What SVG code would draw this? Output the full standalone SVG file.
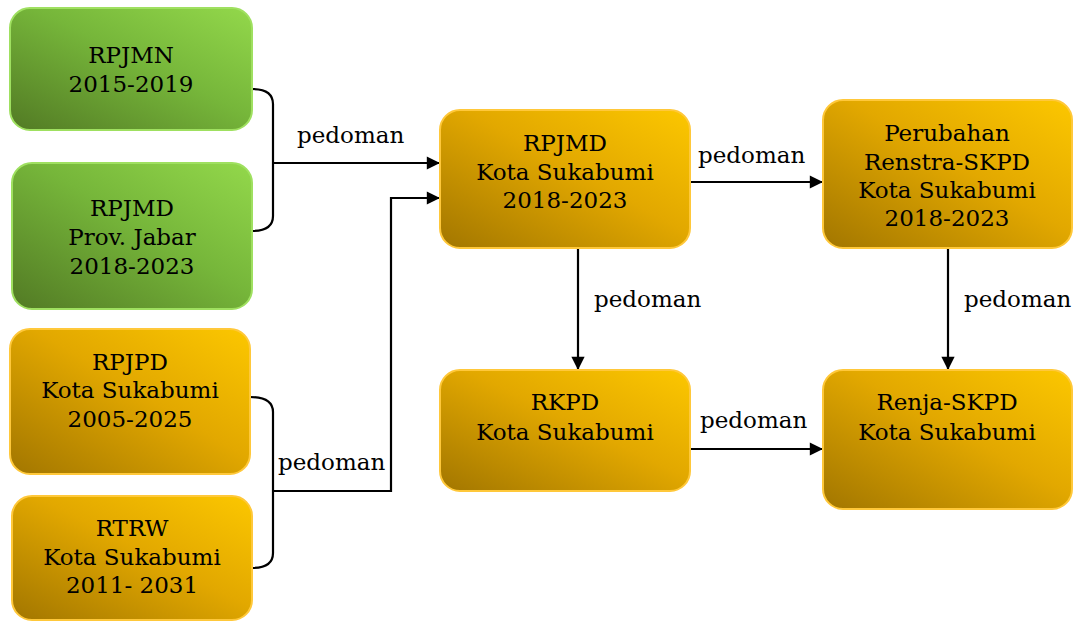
<svg xmlns="http://www.w3.org/2000/svg" width="1073" height="622" viewBox="0 0 1073 622">
<style>
.t{font-family:"DejaVu Serif","Liberation Serif",serif;font-size:23px;fill:#000;text-anchor:middle}
.l{font-family:"DejaVu Serif","Liberation Serif",serif;font-size:23px;fill:#000}
.g{fill:url(#gg);stroke:#9fe060;stroke-width:2}
.o{fill:url(#og);stroke:#ffc83a;stroke-width:2}
.c{fill:none;stroke:#000;stroke-width:2.2}
</style>
<defs>
<linearGradient id="gg" x1="0" y1="1" x2="1" y2="0">
<stop offset="0" stop-color="#527a24"/>
<stop offset="0.55" stop-color="#76b63a"/>
<stop offset="1" stop-color="#93d84b"/>
</linearGradient>
<linearGradient id="og" x1="0" y1="1" x2="1" y2="0">
<stop offset="0" stop-color="#a27600"/>
<stop offset="0.55" stop-color="#e2a800"/>
<stop offset="1" stop-color="#fcc700"/>
</linearGradient>
<marker id="ah" viewBox="0 0 10 10" refX="10" refY="5" markerWidth="7" markerHeight="6" markerUnits="strokeWidth" orient="auto">
<path d="M0,0 L10,5 L0,10 Z" fill="#000"/>
</marker>
</defs>
<g id="connectors">
<path class="c" d="M252,89 Q273,89 273,104 L273,216 Q273,231 252,231"/>
<path class="c" d="M273,163 L440,163" marker-end="url(#ah)"/>
<path class="c" d="M250,397 Q273,397 273,412 L273,553 Q273,568 252,568"/>
<path class="c" d="M273,491 L391,491 L391,198 L440,198" marker-end="url(#ah)"/>
<path class="c" d="M690,182 L823,182" marker-end="url(#ah)"/>
<path class="c" d="M578,248 L578,370" marker-end="url(#ah)"/>
<path class="c" d="M948,248 L948,370" marker-end="url(#ah)"/>
<path class="c" d="M690,449 L823,449" marker-end="url(#ah)"/>
<text class="l" x="297" y="143">pedoman</text>
<text class="l" x="278" y="470">pedoman</text>
<text class="l" x="698" y="163">pedoman</text>
<text class="l" x="594" y="307">pedoman</text>
<text class="l" x="964" y="307">pedoman</text>
<text class="l" x="700" y="428">pedoman</text>
</g>
<g id="rpjmn">
<rect class="g" x="10" y="8" width="242" height="122" rx="20"/>
<text class="t" x="131" y="63">RPJMN</text>
<text class="t" x="131" y="92">2015-2019</text>
</g>
<g id="rpjmd-prov">
<rect class="g" x="12" y="163" width="240" height="146" rx="20"/>
<text class="t" x="132" y="216">RPJMD</text>
<text class="t" x="132" y="245">Prov. Jabar</text>
<text class="t" x="132" y="274">2018-2023</text>
</g>
<g id="rpjpd">
<rect class="o" x="10" y="329" width="240" height="145" rx="20"/>
<text class="t" x="130" y="370">RPJPD</text>
<text class="t" x="130" y="398">Kota Sukabumi</text>
<text class="t" x="130" y="427">2005-2025</text>
</g>
<g id="rtrw">
<rect class="o" x="12" y="496" width="240" height="124" rx="20"/>
<text class="t" x="132" y="536">RTRW</text>
<text class="t" x="132" y="565">Kota Sukabumi</text>
<text class="t" x="132" y="593">2011- 2031</text>
</g>
<g id="rpjmd-kota">
<rect class="o" x="440" y="110" width="250" height="138" rx="20"/>
<text class="t" x="565" y="151">RPJMD</text>
<text class="t" x="565" y="180">Kota Sukabumi</text>
<text class="t" x="565" y="208">2018-2023</text>
</g>
<g id="renstra">
<rect class="o" x="823" y="100" width="249" height="148" rx="20"/>
<text class="t" x="947" y="141">Perubahan</text>
<text class="t" x="947" y="170">Renstra-SKPD</text>
<text class="t" x="947" y="198">Kota Sukabumi</text>
<text class="t" x="947" y="226">2018-2023</text>
</g>
<g id="rkpd">
<rect class="o" x="440" y="370" width="250" height="121" rx="20"/>
<text class="t" x="565" y="410">RKPD</text>
<text class="t" x="565" y="440">Kota Sukabumi</text>
</g>
<g id="renja">
<rect class="o" x="823" y="370" width="249" height="139" rx="20"/>
<text class="t" x="947" y="410">Renja-SKPD</text>
<text class="t" x="947" y="440">Kota Sukabumi</text>
</g>
</svg>
